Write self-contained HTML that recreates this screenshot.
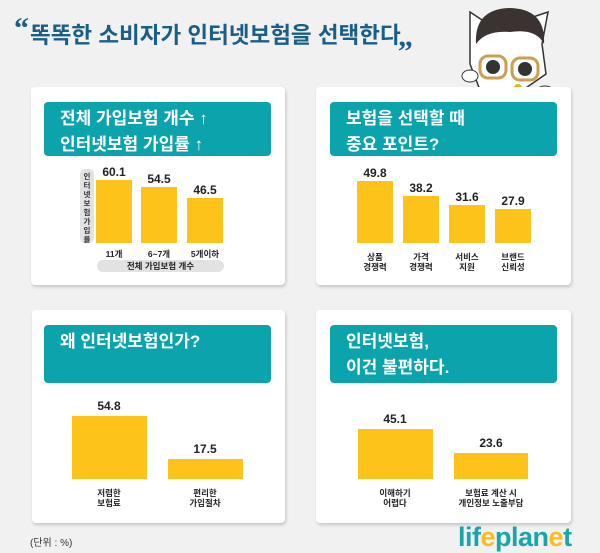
<!DOCTYPE html>
<html><head><meta charset="utf-8"><style>
body{margin:0;width:600px;height:551px;background:#f1f1f1;font-family:"Liberation Sans","Noto Sans CJK KR",sans-serif;position:relative;overflow:hidden}
.a{position:absolute}
.p{position:absolute;background:#fff;border-radius:4px;box-shadow:1px 2px 3px rgba(0,0,0,.18)}
.h{position:absolute;background:#0ba4ac;border-radius:4px;color:#fff;font-weight:bold;font-size:17px;line-height:26px;padding:4px 0 0 16px;box-sizing:border-box}
.b{position:absolute;background:#fdc31a}
.v{position:absolute;font-size:12px;font-weight:bold;color:#222;text-align:center;width:60px}
.l{position:absolute;font-size:8.5px;color:#222;text-align:center;width:80px;line-height:10px;font-weight:bold}
</style></head><body>
<div class="a" style="left:14px;top:12px;font-size:30px;font-weight:bold;color:#1a5d86;font-family:'Liberation Serif',serif">“</div>
<div class="a" style="left:30px;top:18px;font-size:22.5px;font-weight:bold;color:#1a5d86;white-space:nowrap">똑똑한 소비자가 인터넷보험을 선택한다</div>
<div class="a" style="left:398px;top:20px;font-size:30px;font-weight:bold;color:#1a5d86;font-family:'Liberation Serif',serif">„</div>
<svg class="a" style="left:460px;top:4px" width="100" height="94" viewBox="0 0 100 94">
<path d="M10 8 L25 18 L70 14 L88 8 L82 40 L86 70 L60 88 L20 86 L10 60 Z" fill="#fff" stroke="#333" stroke-width="1.5"/>
<path d="M16 40 Q14 5 50 4 Q86 5 84 40 Q76 24 50 28 Q26 26 16 40Z" fill="#3a3332"/>
<rect x="20" y="52" width="26" height="22" rx="8" fill="none" stroke="#c9a050" stroke-width="3"/>
<rect x="52" y="54" width="26" height="22" rx="8" fill="none" stroke="#c9a050" stroke-width="3"/>
<circle cx="33" cy="63" r="7" fill="#333"/><circle cx="65" cy="65" r="7" fill="#333"/>
<circle cx="58" cy="84" r="4" fill="#e6b21c"/>
<ellipse cx="10" cy="72" rx="8" ry="6" fill="#fff" stroke="#333"/>
<ellipse cx="85" cy="88" rx="9" ry="6" fill="#fff" stroke="#333"/>
</svg>

<div class="p" style="left:31px;top:87px;width:254px;height:198px"></div>
<div class="p" style="left:316px;top:87px;width:255px;height:198px"></div>
<div class="p" style="left:32px;top:310px;width:253px;height:213px"></div>
<div class="p" style="left:316px;top:310px;width:255px;height:213px"></div>

<div class="h" style="left:44px;top:102px;width:227px;height:54px">전체 가입보험 개수 ↑<br>인터넷보험 가입률 ↑</div>
<div class="h" style="left:330px;top:102px;width:227px;height:54px">보험을 선택할 때<br>중요 포인트?</div>
<div class="h" style="left:44px;top:325px;width:227px;height:58px">왜 인터넷보험인가?</div>
<div class="h" style="left:330px;top:325px;width:227px;height:58px">인터넷보험,<br>이건 불편하다.</div>

<div class="a" style="left:80px;top:169px;width:14px;height:74px;background:#e2e2e2;border-radius:5px;font-size:7.5px;line-height:9px;text-align:center;font-weight:bold;color:#333;padding-top:3px;box-sizing:border-box">인<br>터<br>넷<br>보<br>험<br>가<br>입<br>률</div>
<div class="b" style="left:96px;top:180px;width:36px;height:63px"></div>
<div class="b" style="left:141px;top:187px;width:36px;height:56px"></div>
<div class="b" style="left:187px;top:198px;width:36px;height:45px"></div>
<div class="v" style="left:84px;top:165px">60.1</div>
<div class="v" style="left:129px;top:172px">54.5</div>
<div class="v" style="left:175px;top:183px">46.5</div>
<div class="l" style="left:74px;top:249px">11개</div>
<div class="l" style="left:119px;top:249px">6~7개</div>
<div class="l" style="left:165px;top:249px">5개이하</div>
<div class="a" style="left:97px;top:260px;width:127px;height:12px;background:#e2e2e2;border-radius:6px;font-size:8.5px;line-height:12px;text-align:center;font-weight:bold;color:#222">전체 가입보험 개수</div>

<div class="b" style="left:357px;top:181px;width:36px;height:62px"></div>
<div class="b" style="left:403px;top:196px;width:36px;height:47px"></div>
<div class="b" style="left:449px;top:205px;width:36px;height:38px"></div>
<div class="b" style="left:495px;top:209px;width:36px;height:34px"></div>
<div class="v" style="left:345px;top:166px">49.8</div>
<div class="v" style="left:391px;top:181px">38.2</div>
<div class="v" style="left:437px;top:190px">31.6</div>
<div class="v" style="left:483px;top:194px">27.9</div>
<div class="l" style="left:335px;top:252px">상품<br>경쟁력</div>
<div class="l" style="left:381px;top:252px">가격<br>경쟁력</div>
<div class="l" style="left:427px;top:252px">서비스<br>지원</div>
<div class="l" style="left:473px;top:252px">브랜드<br>신뢰성</div>

<div class="b" style="left:72px;top:416px;width:75px;height:63px"></div>
<div class="b" style="left:168px;top:459px;width:75px;height:20px"></div>
<div class="v" style="left:79px;top:399px">54.8</div>
<div class="v" style="left:175px;top:442px">17.5</div>
<div class="l" style="left:69px;top:488px">저렴한<br>보험료</div>
<div class="l" style="left:165px;top:488px">편리한<br>가입절차</div>

<div class="b" style="left:358px;top:429px;width:75px;height:50px"></div>
<div class="b" style="left:454px;top:453px;width:74px;height:26px"></div>
<div class="v" style="left:365px;top:412px">45.1</div>
<div class="v" style="left:461px;top:436px">23.6</div>
<div class="l" style="left:355px;top:488px">이해하기<br>어렵다</div>
<div class="l" style="left:431px;top:488px;width:120px">보험료 계산 시<br>개인정보 노출부담</div>

<div class="a" style="left:30px;top:534px;font-size:10px;color:#333">(단위 : %)</div>
<div class="a" style="left:458px;top:522px;font-size:27px;font-weight:bold;color:#1aa6a8;letter-spacing:-0.5px">lif<span style="color:#fbbd1a">e</span>plan<span style="color:#fbbd1a">e</span>t</div>
</body></html>
